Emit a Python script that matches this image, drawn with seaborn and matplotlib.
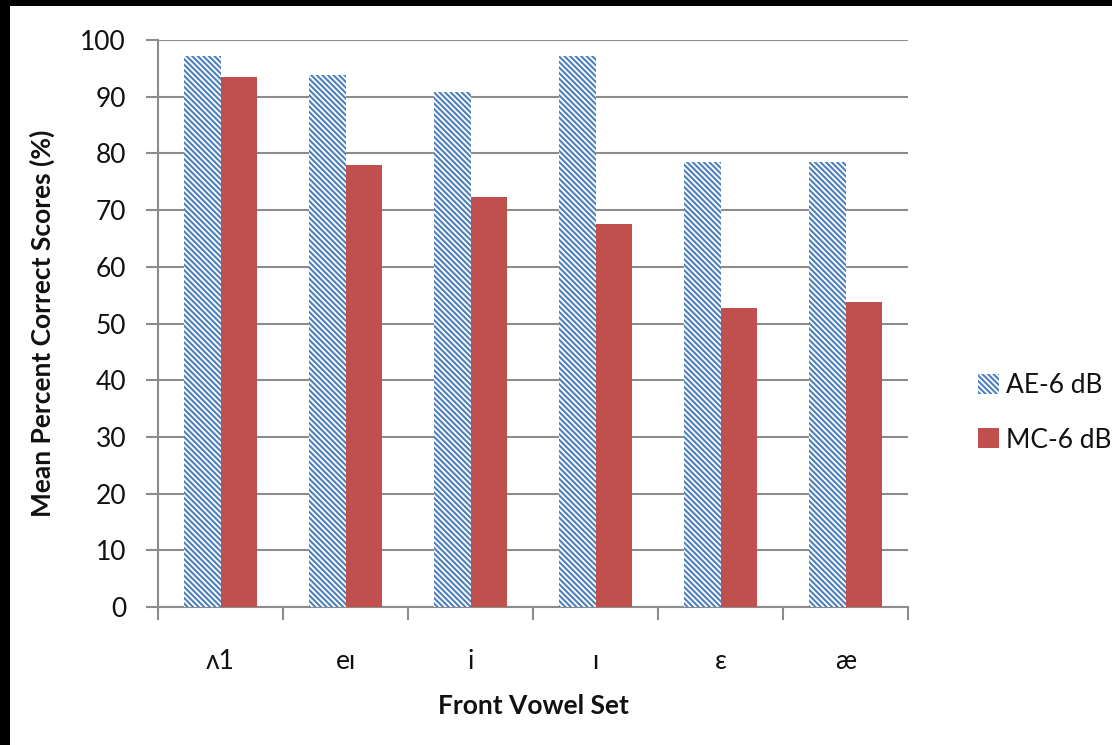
import matplotlib
matplotlib.use("Agg")
import matplotlib.pyplot as plt
import seaborn as sns
import pandas as pd
from matplotlib.patches import Patch, Rectangle

categories = ["ʌ1", "eɪ", "i", "ɪ", "ε", "æ"]
series_names = ["AE-6 dB", "MC-6 dB"]
ae_values = [97.2, 93.9, 90.8, 97.2, 78.4, 78.4]
mc_values = [93.5, 78.0, 72.3, 67.5, 52.7, 53.8]
y_ticks = [0, 10, 20, 30, 40, 50, 60, 70, 80, 90, 100]

df = pd.DataFrame({
    "vowel": categories * 2,
    "series": [series_names[0]] * len(categories) + [series_names[1]] * len(categories),
    "score": ae_values + mc_values,
})

blue = "#4F81BD"
red = "#C0504D"
grid_gray = "#8C8C8C"

sns.set_theme(style="white")
plt.rcParams["font.family"] = ["Lato", "DejaVu Sans"]
plt.rcParams["hatch.linewidth"] = 1.3
plt.rcParams["hatch.color"] = "white"

fig = plt.figure(figsize=(11.12, 7.45), dpi=100)
fig.patch.set_facecolor("black")
fig.add_artist(Rectangle((10 / 1112, 0), 1 - 10 / 1112, 1 - 6 / 745,
                         transform=fig.transFigure, facecolor="white",
                         edgecolor="none", zorder=-10))
ax = fig.add_axes([158 / 1112, 1 - 607 / 745, 750 / 1112, 567 / 745])
ax.set_facecolor("white")

sns.barplot(data=df, x="vowel", y="score", hue="series", order=categories,
            hue_order=series_names, palette=[blue, red], width=0.58,
            saturation=1, ax=ax, legend=False, zorder=3)

n = len(categories)
for i, p in enumerate(ax.patches[:2 * n]):
    p.set_linewidth(0)
    if i < n:
        p.set_facecolor(blue)
        p.set_hatch("\\\\\\\\\\\\")
        p.set_edgecolor("white")
    else:
        p.set_facecolor(red)
        p.set_edgecolor(red)

ax.set_ylim(0, 100)
ax.set_xlim(-0.5, n - 0.5)
ax.set_yticks(y_ticks)
ax.yaxis.grid(True, color=grid_gray, linewidth=1.5, zorder=0)
ax.set_axisbelow(True)
for s in ["top", "right"]:
    ax.spines[s].set_visible(False)
for s in ["left", "bottom"]:
    ax.spines[s].set_color(grid_gray)
    ax.spines[s].set_linewidth(1.5)

ax.tick_params(axis="y", which="major", direction="out", length=9, width=1.5,
               color=grid_gray, labelsize=19, labelcolor="#111111", pad=14, left=True)
ax.set_xticks(range(n))
ax.set_xticklabels(categories)
ax.tick_params(axis="x", which="major", length=0, labelsize=19, labelcolor="#111111", pad=30)
ax.set_xticks([i - 0.5 for i in range(n + 1)], minor=True)
ax.tick_params(axis="x", which="minor", direction="out", length=9, width=1.5,
               color=grid_gray, bottom=True)

ax.set_xlabel("Front Vowel Set", fontsize=19, fontweight="bold", labelpad=15, color="#111111")
ax.set_ylabel("Mean Percent Correct Scores (%)", fontsize=19, fontweight="bold",
              labelpad=18, color="#111111")

handles = [Patch(facecolor=blue, edgecolor="white", hatch="\\\\\\\\\\\\", linewidth=0),
           Patch(facecolor=red, edgecolor=red, linewidth=0)]
leg = fig.legend(handles, series_names, loc="center left",
                 bbox_to_anchor=(978 / 1112, 1 - 413 / 745), frameon=False,
                 fontsize=19, handlelength=0.8, handleheight=0.8,
                 handletextpad=0.25, labelspacing=1.1, borderaxespad=0,
                 borderpad=0)
for t in leg.get_texts():
    t.set_color("#111111")

fig.savefig("out.png", dpi=100, facecolor=fig.get_facecolor())
